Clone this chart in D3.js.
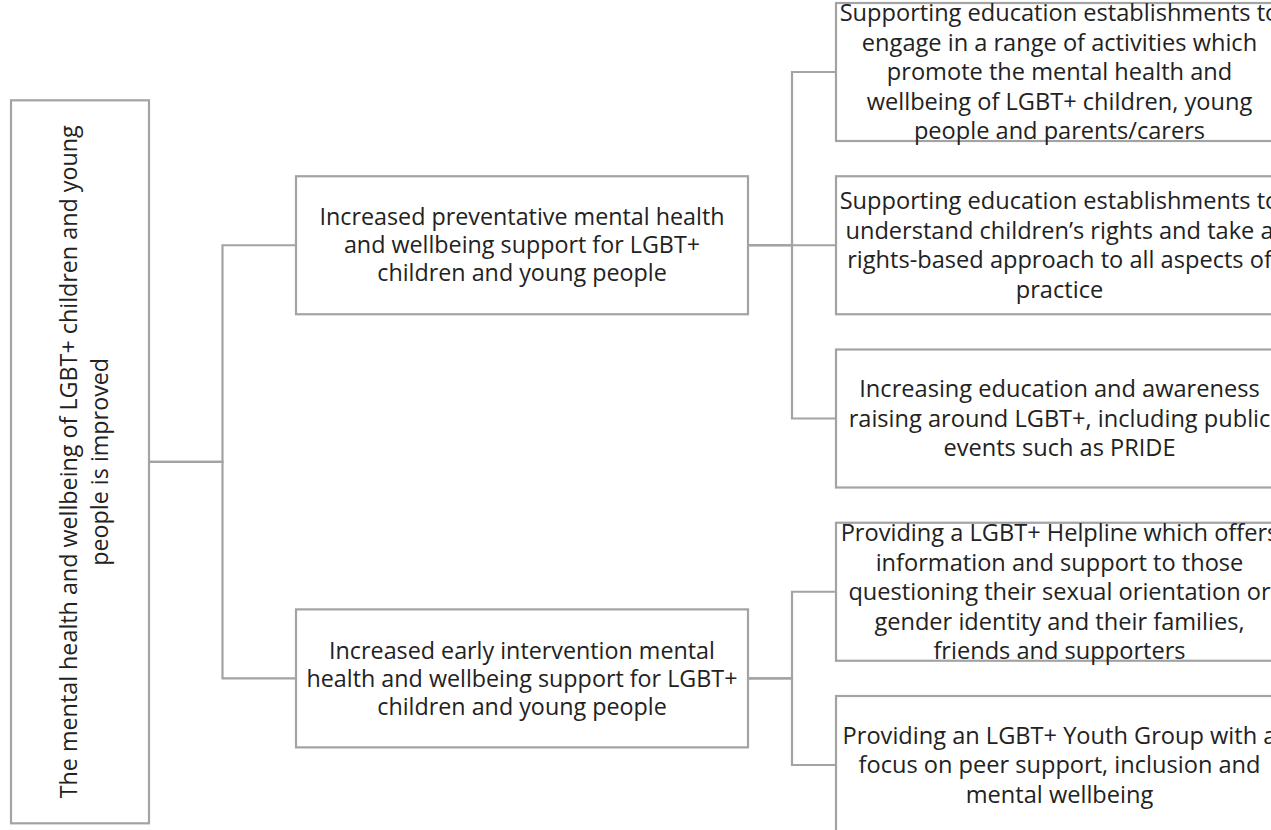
<!DOCTYPE html>
<html>
<head>
<meta charset="utf-8">
<script src="https://cdn.jsdelivr.net/npm/d3@7"></script>
<style>
  body { margin: 0; background: #fff; overflow: hidden; }
  svg { display: block; }
</style>
</head>
<body>
<div id="chart"></div>
<script>
// Texto de cada caja (una entrada por línea)
const rootLabel = [
    'The mental health and wellbeing of LGBT+ children and young',
    'people is improved'
];

const outcomeLabels = [
    ['Increased preventative mental health', 'and wellbeing support for LGBT+', 'children and young people'],
    ['Increased early intervention mental', 'health and wellbeing support for LGBT+', 'children and young people']
];

const activityLabels = [
    ['Supporting education establishments to', 'engage in a range of activities which', 'promote the mental health and', 'wellbeing of LGBT+ children, young', 'people and parents/carers'],
    ['Supporting education establishments to', 'understand children\u2019s rights and take a', 'rights-based approach to all aspects of', 'practice'],
    ['Increasing education and awareness', 'raising around LGBT+, including public', 'events such as PRIDE'],
    ['Providing a LGBT+ Helpline which offers', 'information and support to those', 'questioning their sexual orientation or', 'gender identity and their families,', 'friends and supporters'],
    ['Providing an LGBT+ Youth Group with a', 'focus on peer support, inclusion and', 'mental wellbeing']
];

// Qué actividades cuelgan de cada resultado
const activityParent = [0, 0, 0, 1, 1];

// Configuraciones
const width = 1271;
const height = 830;
const stroke = '#a3a3a3';
const textColor = '#222';
const font = '"Open Sans", "Noto Sans", sans-serif';

// Columnas por nivel: borde izquierdo y ancho
const columns = [
    { x: 11, w: 138 },
    { x: 296, w: 452 },
    { x: 836, w: 447 }
];
const boxH = [723, 138, 138];
const fontSize = [23.3, 23.3, 23.6];
const lineH = [31, 28, 29.5];

// Construir la jerarquía
const treeData = {
    id: 'root', label: rootLabel,
    children: outcomeLabels.map((lab, i) => ({
        id: 'o' + i, label: lab,
        children: activityLabels
            .map((a, j) => ({ id: 'a' + j, label: a, idx: j }))
            .filter(a => activityParent[a.idx] === i)
    }))
};

const root = d3.hierarchy(treeData);
d3.cluster().size([1, 1]).separation(() => 1)(root);

// Escala vertical: hojas de 72 a 765
const leaves = root.leaves();
const yScale = d3.scaleLinear()
    .domain([leaves[0].x, leaves[leaves.length - 1].x])
    .range([72, 765]);

root.each(d => {
    const col = columns[d.depth];
    d.cx = yScale(d.x);
    d.left = col.x;
    d.right = col.x + col.w;
    d.h = boxH[d.depth];
});

const svg = d3.select('#chart').append('svg')
    .attr('width', width)
    .attr('height', height)
    .attr('viewBox', `0 0 ${width} ${height}`);

// Conectores en codo
const links = svg.append('g')
    .attr('fill', 'none')
    .attr('stroke', stroke)
    .attr('stroke-width', 2.2);

root.links().forEach(l => {
    const elbow = (l.source.right + l.target.left) / 2;
    links.append('path')
        .attr('d', `M${l.source.right},${l.source.cx}H${elbow}V${l.target.cx}H${l.target.left}`);
});

// Cajas
const nodes = svg.append('g').selectAll('g')
    .data(root.descendants())
    .enter().append('g');

nodes.append('rect')
    .attr('x', d => d.left)
    .attr('y', d => d.cx - d.h / 2)
    .attr('width', d => d.right - d.left)
    .attr('height', d => d.h)
    .attr('fill', '#fff')
    .attr('stroke', stroke)
    .attr('stroke-width', 2.2);

// Texto
nodes.each(function(d) {
    const lines = d.data.label;
    const n = lines.length;
    const lh = lineH[d.depth];
    const midX = (d.left + d.right) / 2;
    const t = d3.select(this).append('text')
        .attr('font-family', font)
        .attr('font-size', fontSize[d.depth])
        .attr('fill', textColor)
        .attr('text-anchor', 'middle');

    if (d.depth === 0) {
        // Texto vertical en la caja raíz
        t.attr('transform', `translate(${midX + 4},${d.cx}) rotate(-90)`);
        lines.forEach((s, i) => {
            t.append('tspan')
                .attr('x', 0)
                .attr('y', (i - (n - 1) / 2) * lh)
                .attr('dy', '0.35em')
                .text(s);
        });
    } else {
        lines.forEach((s, i) => {
            t.append('tspan')
                .attr('x', midX)
                .attr('y', d.cx + (i - (n - 1) / 2) * lh)
                .attr('dy', '0.35em')
                .text(s);
        });
    }
});
</script>
</body>
</html>
